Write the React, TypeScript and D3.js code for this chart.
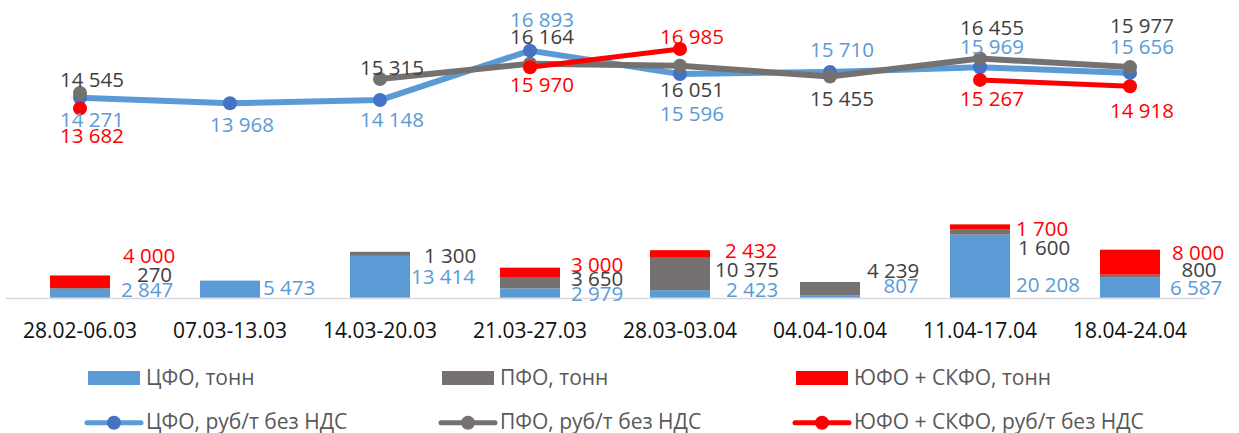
import React from 'react';
import * as d3 from 'd3';

const categories = ['28.02-06.03', '07.03-13.03', '14.03-20.03', '21.03-27.03', '28.03-03.04', '04.04-10.04', '11.04-17.04', '18.04-24.04'];

// tonnes (stacked bars)
const cfoTons: (number | null)[] = [2847, 5473, 13414, 2979, 2423, 807, 20208, 6587];
const pfoTons: (number | null)[] = [270, null, 1300, 3650, 10375, 4239, 1600, 800];
const yufoTons: (number | null)[] = [4000, null, null, 3000, 2432, null, 1700, 8000];

// price, rub/t without VAT (lines)
const cfoPrice: (number | null)[] = [14271, 13968, 14148, 16893, 15596, 15710, 15969, 15656];
const pfoPrice: (number | null)[] = [14545, null, 15315, 16164, 16051, 15455, 16455, 15977];
const yufoPrice: (number | null)[] = [13682, null, null, 15970, 16985, null, 15267, 14918];

const legendNames = ['ЦФО, тонн', 'ПФО, тонн', 'ЮФО + СКФО, тонн', 'ЦФО, руб/т без НДС', 'ПФО, руб/т без НДС', 'ЮФО + СКФО, руб/т без НДС'];

// layout: label offsets (as placed in the original)
const cfoPriceLabelDy = [29, 28.4, 26.7, -23.8, 46.7, -14.6, -13, -18.6];
const pfoPriceLabelDy = [-5.6, 0, -4, -19.8, 30.9, 29.5, -23.5, -33.8];
const yufoPriceLabelDy = [34.3, 0, 0, 24.5, -5, 0, 26.1, 32.1];
const cfoBarLabelDx = [67, 59, 63, 67, 72, 71, 68, 66];
const cfoBarLabelDy = [-1, -2.7, -13.4, 3, -1, -4.4, -6, -2.7];
const pfoBarLabelDx = [74.5, 0, 70, 67, 67, 63, 64, 69];
const pfoBarLabelDy = [-16, 0, -34.4, -11.7, -21, -20, -42.7, -21];
const yufoBarLabelDx = [69, 0, 0, 67, 71, 0, 62, 68];
const yufoBarLabelDy = [-34.4, 0, 0, -26, -39.4, 0, -61.7, -37.7];

const BLUE = '#5B9BD5';
const BLUE_MARK = '#4472C4';
const GREY = '#767171';
const RED = '#FF0000';
const LABEL_GREY = '#404040';
const FONT = "'Open Sans', 'DejaVu Sans', sans-serif";

const fmt = (v: number) => d3.format(',')(v).replace(/,/g, ' ');

export default function App() {
  const W = 1239, H = 433;
  const baseY = 297.7;
  const x = d3.scaleBand<string>().domain(categories).range([5, 1205]).paddingInner(0.6).paddingOuter(0.3);
  const cx = (i: number) => (x(categories[i]) as number) + x.bandwidth() / 2;
  const yBar = d3.scaleLinear().domain([0, 90000]).range([baseY, baseY - 90000 * 0.00312]);
  const yLine = d3.scaleLinear().domain([3000, 19500]).range([300.7, 300.7 - 16500 * 0.018]);

  const rows = categories.map((c, i) => ({ cat: c, cfo: cfoTons[i] ?? 0, pfo: pfoTons[i] ?? 0, yufo: yufoTons[i] ?? 0 }));
  const stack = d3.stack<any>().keys(['cfo', 'pfo', 'yufo'])(rows);
  const barColors: Record<string, string> = { cfo: BLUE, pfo: GREY, yufo: RED };

  const lineGen = d3.line<number | null>()
    .defined((d) => d != null)
    .x((_, i) => cx(i))
    .y((d) => yLine(d as number));

  const lineSeries = [
    { data: cfoPrice, color: BLUE, mark: BLUE_MARK, width: 6, labelColor: BLUE, dy: cfoPriceLabelDy },
    { data: pfoPrice, color: GREY, mark: GREY, width: 6, labelColor: LABEL_GREY, dy: pfoPriceLabelDy },
    { data: yufoPrice, color: RED, mark: RED, width: 5, labelColor: RED, dy: yufoPriceLabelDy },
  ];

  const barLabels = [
    { data: cfoTons, color: BLUE, dx: cfoBarLabelDx, dy: cfoBarLabelDy },
    { data: pfoTons, color: LABEL_GREY, dx: pfoBarLabelDx, dy: pfoBarLabelDy },
    { data: yufoTons, color: RED, dx: yufoBarLabelDx, dy: yufoBarLabelDy },
  ];

  const legendX = [88, 442, 796];
  const legendColors = [BLUE, GREY, RED];
  const legendMarks = [BLUE_MARK, GREY, RED];

  return (
    <div style={{ position: 'fixed', left: 0, top: 0 }}>
      <svg width={W} height={H} style={{ display: 'block', background: '#fff' }} fontFamily={FONT}>
        {/* bars */}
        {stack.map((s) => (
          <g key={s.key}>
            {s.map((d, i) => (d[1] - d[0] > 0 ? (
              <rect key={i} x={x(categories[i])} width={x.bandwidth()} y={yBar(d[1])} height={yBar(d[0]) - yBar(d[1])} fill={barColors[s.key]} />
            ) : null))}
          </g>
        ))}
        {/* axis line */}
        <line x1={6} x2={1205} y1={298.5} y2={298.5} stroke="#D9D9D9" strokeWidth={1.5} />
        {/* category labels */}
        {categories.map((c, i) => (
          <text key={c} x={cx(i)} y={338.3} textAnchor="middle" fontSize={21} fill="#111">{c}</text>
        ))}
        {/* bar labels */}
        {barLabels.map((b, si) => (
          <g key={si}>
            {b.data.map((v, i) => (v == null ? null : (
              <text key={i} x={cx(i) + b.dx[i]} y={baseY + b.dy[i]} textAnchor="middle" fontSize={20.5} fill={b.color}>{fmt(v)}</text>
            )))}
          </g>
        ))}
        {/* lines */}
        {lineSeries.map((s, si) => (
          <g key={si}>
            <path d={lineGen(s.data) || ''} fill="none" stroke={s.color} strokeWidth={s.width} strokeLinejoin="round" strokeLinecap="round" />
            {s.data.map((v, i) => (v == null ? null : (
              <circle key={i} cx={cx(i)} cy={yLine(v)} r={7} fill={s.mark} />
            )))}
          </g>
        ))}
        {/* line labels */}
        {lineSeries.map((s, si) => (
          <g key={si}>
            {s.data.map((v, i) => (v == null ? null : (
              <text key={i} x={cx(i) + 12} y={yLine(v) + s.dy[i]} textAnchor="middle" fontSize={20.5} fill={s.labelColor}>{fmt(v)}</text>
            )))}
          </g>
        ))}
        {/* legend */}
        {legendX.map((lx, k) => (
          <g key={'l1' + k}>
            <rect x={lx} y={371} width={52} height={14} fill={legendColors[k]} />
            <text x={lx + 58} y={385} fontSize={21} fill="#595959">{legendNames[k]}</text>
          </g>
        ))}
        {legendX.map((lx, k) => (
          <g key={'l2' + k}>
            <line x1={lx - 1} x2={lx + 53} y1={422.7} y2={422.7} stroke={legendColors[k]} strokeWidth={5} strokeLinecap="round" />
            <circle cx={lx + 26} cy={422.7} r={7} fill={legendMarks[k]} />
            <text x={lx + 58} y={428.5} fontSize={21} fill="#595959">{legendNames[k + 3]}</text>
          </g>
        ))}
      </svg>
    </div>
  );
}
